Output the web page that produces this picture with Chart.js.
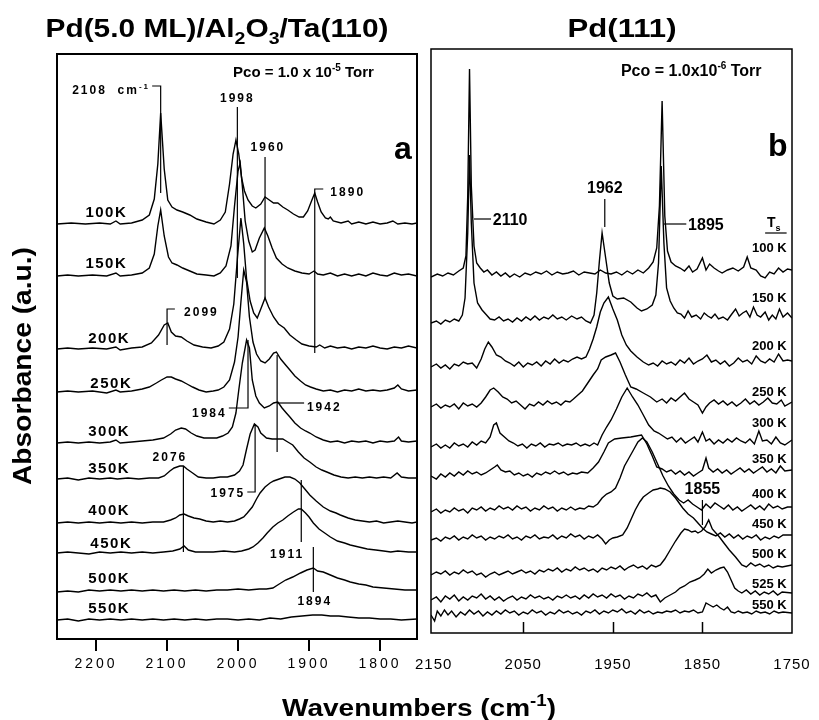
<!DOCTYPE html>
<html>
<head>
<meta charset="utf-8">
<script src="https://cdn.jsdelivr.net/npm/chart.js@4.4.0/dist/chart.umd.min.js"></script>
<style>
html, body { margin: 0; padding: 0; background: #fff; }
#wrap { position: relative; width: 819px; height: 720px; }
canvas { position: absolute; top: 0; }
#chartA { left: 0; }
#chartB { left: 405px; }
</style>
</head>
<body>
<div id="wrap">
  <canvas id="chartA" width="819" height="720"></canvas>
  <canvas id="chartB" width="414" height="720"></canvas>
</div>
<script>
// ---- panel a : Pd(5.0 ML)/Al2O3/Ta(110), spectra as [wavenumber, height above own baseline]
const tempsA = ['100K', '150K', '200K', '250K', '300K', '350K', '400K', '450K', '500K', '550K'];
const offsetsA = [415, 363, 290, 247, 196, 160, 116, 86, 47, 19];
const ticksA = [2200, 2100, 2000, 1900, 1800];

const a100 = [[2255,0],[2235,1],[2215,0],[2195,1],[2180,0],[2172,3],[2166,0],[2150,1],[2135,4],[2125,9],[2118,25],[2113,60],[2109,111],[2104,55],[2099,24],[2093,17],[2086,14],[2078,12],[2068,9],[2058,5],[2045,2],[2034,0],[2025,4],[2018,12],[2012,40],[2007,70],[2003,84],[1999,70],[1995,46],[1991,33],[1986,24],[1980,18],[1975,16],[1968,20],[1962,27],[1958,25],[1950,21],[1944,21],[1937,17],[1930,14],[1922,10],[1914,7],[1908,7],[1902,13],[1896,24],[1892,31],[1888,22],[1883,12],[1877,6],[1873,5],[1870,7],[1866,3],[1855,1],[1845,3],[1840,0],[1830,2],[1820,0],[1810,2],[1800,0],[1790,1],[1782,3],[1775,0],[1765,1],[1755,0],[1748,1]];
const a150 = [[2255,0],[2240,1],[2225,0],[2205,1],[2185,0],[2172,3],[2166,0],[2150,1],[2135,3],[2125,8],[2118,22],[2113,50],[2109,66],[2104,40],[2098,19],[2093,13],[2086,11],[2078,8],[2068,5],[2058,2],[2045,1],[2034,0],[2025,3],[2017,10],[2010,30],[2005,70],[2000,105],[1997,113],[1994,90],[1990,55],[1985,35],[1980,24],[1976,26],[1970,38],[1963,48],[1958,40],[1952,28],[1946,18],[1938,12],[1930,8],[1920,5],[1910,3],[1900,2],[1893,5],[1888,2],[1880,1],[1870,3],[1860,0],[1850,2],[1840,0],[1830,2],[1820,0],[1810,3],[1800,1],[1790,0],[1780,3],[1770,1],[1760,2],[1748,0]];
const a200 = [[2255,0],[2240,1],[2225,0],[2205,1],[2185,0],[2172,2],[2166,-1],[2150,1],[2135,2],[2122,6],[2112,14],[2104,24],[2099,26],[2094,17],[2088,13],[2080,12],[2072,8],[2062,4],[2050,2],[2038,1],[2028,3],[2020,7],[2012,20],[2006,45],[2001,90],[1996,131],[1992,105],[1988,70],[1983,48],[1978,36],[1973,31],[1968,40],[1962,51],[1957,42],[1950,32],[1943,25],[1935,21],[1927,14],[1918,9],[1910,5],[1900,3],[1890,2],[1885,4],[1878,1],[1870,3],[1860,1],[1850,2],[1840,0],[1830,2],[1820,1],[1810,3],[1800,1],[1790,0],[1780,2],[1770,1],[1760,3],[1748,1]];
const a250 = [[2255,0],[2240,1],[2225,0],[2205,1],[2185,-1],[2172,2],[2166,0],[2150,1],[2135,3],[2125,5],[2115,9],[2108,12],[2100,15],[2094,15],[2088,13],[2080,11],[2072,8],[2064,5],[2055,2],[2045,0],[2035,1],[2028,2],[2020,5],[2012,12],[2005,30],[2000,55],[1996,90],[1992,122],[1988,110],[1984,75],[1979,50],[1974,38],[1968,31],[1962,29],[1956,33],[1950,39],[1946,40],[1940,33],[1933,27],[1927,22],[1920,16],[1912,11],[1905,7],[1898,5],[1890,3],[1880,1],[1870,2],[1860,0],[1850,2],[1840,1],[1830,3],[1820,1],[1810,2],[1800,1],[1790,2],[1780,4],[1775,7],[1770,3],[1760,1],[1748,2]];
const a300 = [[2255,0],[2240,1],[2225,0],[2210,1],[2195,0],[2180,1],[2172,3],[2166,0],[2150,1],[2135,2],[2120,3],[2105,5],[2095,9],[2088,13],[2080,15],[2074,14],[2066,10],[2058,7],[2048,5],[2038,5],[2030,5],[2022,7],[2014,10],[2008,16],[2003,30],[1999,53],[1994,80],[1988,103],[1984,95],[1980,63],[1975,47],[1970,40],[1963,35],[1956,37],[1950,40],[1944,41],[1938,35],[1932,30],[1927,26],[1920,20],[1912,15],[1905,12],[1899,10],[1890,6],[1880,3],[1870,1],[1860,2],[1850,0],[1840,2],[1830,1],[1820,2],[1810,0],[1800,2],[1790,1],[1780,2],[1774,6],[1770,2],[1760,1],[1748,2]];
const a350 = [[2255,0],[2240,1],[2225,-1],[2210,1],[2195,0],[2180,1],[2170,0],[2155,1],[2140,0],[2125,1],[2112,1],[2104,3],[2096,8],[2090,11],[2082,13],[2077,13],[2072,10],[2064,6],[2056,2],[2045,1],[2035,1],[2025,2],[2015,2],[2005,4],[1998,8],[1993,14],[1988,30],[1983,45],[1977,55],[1972,52],[1968,46],[1960,41],[1952,40],[1944,40],[1937,40],[1930,37],[1923,34],[1915,27],[1907,21],[1899,17],[1890,12],[1882,9],[1875,7],[1865,4],[1855,2],[1845,1],[1835,2],[1825,1],[1815,2],[1805,1],[1795,2],[1785,1],[1776,6],[1770,2],[1760,1],[1748,1]];
const a400 = [[2255,0],[2240,1],[2225,0],[2210,1],[2195,0],[2180,1],[2165,0],[2150,1],[2135,0],[2120,1],[2105,1],[2095,3],[2088,5],[2082,8],[2076,9],[2070,7],[2062,5],[2054,4],[2045,2],[2035,1],[2025,2],[2015,1],[2005,2],[1998,4],[1992,6],[1987,10],[1980,16],[1974,24],[1969,30],[1962,36],[1955,40],[1950,42],[1942,44],[1934,46],[1927,46],[1920,44],[1913,40],[1906,34],[1899,28],[1890,22],[1880,16],[1870,12],[1862,10],[1856,8],[1845,5],[1835,3],[1825,2],[1815,1],[1805,2],[1795,0],[1785,1],[1775,2],[1765,1],[1755,0],[1748,1]];
const a450 = [[2255,0],[2240,1],[2225,0],[2210,-1],[2195,1],[2180,0],[2165,1],[2150,0],[2135,1],[2120,0],[2105,1],[2092,2],[2082,4],[2076,7],[2070,3],[2060,1],[2048,1],[2035,1],[2020,2],[2005,1],[1995,2],[1985,4],[1979,6],[1972,10],[1965,15],[1959,20],[1951,26],[1944,30],[1937,33],[1930,37],[1922,41],[1915,44],[1911,44],[1905,40],[1900,36],[1894,30],[1886,24],[1878,20],[1870,16],[1860,12],[1850,10],[1842,8],[1830,6],[1818,4],[1806,3],[1795,2],[1785,1],[1775,2],[1760,1],[1748,1]];
const a500 = [[2255,0],[2240,1],[2225,0],[2210,2],[2195,1],[2180,2],[2165,1],[2150,2],[2135,1],[2120,2],[2105,1],[2090,2],[2075,1],[2060,2],[2045,1],[2030,2],[2015,2],[2000,3],[1985,2],[1970,3],[1960,3],[1951,4],[1942,8],[1933,12],[1923,15],[1912,19],[1903,22],[1894,24],[1888,21],[1880,20],[1870,17],[1860,14],[1850,12],[1842,10],[1830,8],[1820,7],[1810,5],[1795,4],[1780,3],[1765,2],[1748,2]];
const a550 = [[2255,0],[2240,1],[2225,-1],[2210,1],[2195,0],[2180,1],[2165,0],[2150,1],[2135,0],[2120,1],[2105,0],[2090,1],[2075,0],[2060,1],[2045,0],[2030,1],[2015,1],[2000,0],[1985,1],[1970,0],[1955,2],[1940,1],[1925,3],[1910,4],[1895,5],[1882,5],[1870,4],[1858,4],[1845,3],[1830,2],[1815,2],[1800,1],[1785,1],[1770,0],[1748,1]];
const spectraA = [a100, a150, a200, a250, a300, a350, a400, a450, a500, a550];

// ---- panel b : Pd(111)
const tempsB = ['100 K', '150 K', '200 K', '250 K', '300 K', '350 K', '400 K', '450 K', '500 K', '525 K', '550 K'];
const offsetsB = [357, 310, 266, 226, 186, 157, 121, 93, 58, 33, 18];
const ticksB = [2150, 2050, 1950, 1850, 1750];

const b100 = [[2153,-1],[2146,2],[2140,0],[2134,3],[2128,1],[2122,5],[2117,8],[2114,20],[2112,80],[2110,207],[2108,90],[2105,30],[2102,13],[2098,8],[2094,4],[2090,6],[2085,1],[2080,4],[2075,0],[2070,3],[2065,-1],[2060,2],[2054,-1],[2048,3],[2042,1],[2036,4],[2030,2],[2024,5],[2018,1],[2012,4],[2006,2],[2000,3],[1994,5],[1988,1],[1982,4],[1976,3],[1970,2],[1964,6],[1958,3],[1952,2],[1946,4],[1940,1],[1934,5],[1928,2],[1922,6],[1916,3],[1910,8],[1905,14],[1901,28],[1898,70],[1895,175],[1892,60],[1889,25],[1885,14],[1880,10],[1875,8],[1870,5],[1865,10],[1861,4],[1856,7],[1850,18],[1846,6],[1842,12],[1837,8],[1832,5],[1828,3],[1822,6],[1816,8],[1810,5],[1804,9],[1800,19],[1796,8],[1790,6],[1785,0],[1780,-2],[1775,4],[1770,2],[1765,8],[1760,4],[1755,7],[1750,6]];
const b150 = [[2153,0],[2147,2],[2142,-1],[2137,3],[2132,1],[2127,4],[2122,2],[2118,8],[2115,25],[2112,90],[2110,168],[2108,100],[2105,40],[2101,20],[2096,13],[2091,8],[2087,4],[2082,3],[2077,6],[2072,2],[2067,4],[2062,1],[2057,5],[2052,2],[2047,6],[2042,3],[2037,7],[2032,3],[2027,6],[2022,4],[2017,8],[2012,4],[2007,6],[2002,3],[1996,7],[1990,4],[1985,6],[1980,2],[1975,0],[1971,8],[1968,30],[1965,62],[1962,90],[1958,65],[1954,40],[1950,27],[1945,24],[1938,25],[1930,21],[1923,15],[1918,12],[1912,14],[1906,18],[1902,28],[1899,60],[1896,157],[1893,80],[1890,35],[1886,22],[1882,15],[1878,10],[1874,9],[1870,5],[1866,12],[1862,6],[1857,8],[1852,4],[1848,10],[1844,7],[1840,5],[1836,9],[1832,4],[1827,6],[1822,3],[1818,8],[1813,14],[1809,7],[1805,10],[1801,12],[1797,6],[1793,16],[1789,8],[1785,6],[1780,11],[1776,3],[1772,8],[1768,4],[1764,14],[1760,6],[1755,10],[1750,5]];
const b200 = [[2153,0],[2147,3],[2142,-1],[2137,2],[2132,-2],[2127,3],[2122,1],[2117,5],[2112,3],[2107,4],[2102,-1],[2097,8],[2093,18],[2089,25],[2085,20],[2080,12],[2075,10],[2070,6],[2065,4],[2060,1],[2055,5],[2050,0],[2045,4],[2040,2],[2035,5],[2030,1],[2025,6],[2020,3],[2015,8],[2010,4],[2005,7],[2000,5],[1995,8],[1990,10],[1985,8],[1980,10],[1976,18],[1972,28],[1968,40],[1964,55],[1960,64],[1955,70],[1950,58],[1945,47],[1940,32],[1935,22],[1930,16],[1923,10],[1916,5],[1910,2],[1905,4],[1900,1],[1895,6],[1890,3],[1885,5],[1880,2],[1875,7],[1870,4],[1865,9],[1860,3],[1855,6],[1850,8],[1845,12],[1840,5],[1835,7],[1830,3],[1825,6],[1820,1],[1815,4],[1810,9],[1805,5],[1800,7],[1795,3],[1790,11],[1785,6],[1780,4],[1775,8],[1770,5],[1765,13],[1760,6],[1755,7],[1750,6]];
const b250 = [[2153,0],[2147,3],[2142,-1],[2137,2],[2132,0],[2127,3],[2122,-2],[2117,4],[2112,1],[2107,3],[2102,0],[2097,4],[2092,10],[2087,17],[2083,19],[2078,15],[2073,10],[2068,8],[2063,4],[2058,6],[2053,2],[2048,-2],[2043,3],[2038,1],[2033,5],[2028,2],[2023,6],[2018,3],[2013,5],[2008,2],[2003,6],[1998,5],[1994,8],[1989,12],[1984,16],[1978,24],[1972,32],[1967,38],[1963,47],[1958,50],[1952,52],[1947,54],[1942,45],[1936,32],[1930,20],[1924,18],[1916,14],[1908,10],[1901,5],[1895,8],[1890,4],[1885,9],[1880,6],[1875,10],[1870,14],[1865,8],[1860,5],[1855,2],[1850,-6],[1846,0],[1842,4],[1837,7],[1832,3],[1827,6],[1822,2],[1817,5],[1812,1],[1807,4],[1802,8],[1797,3],[1792,6],[1787,2],[1782,5],[1777,9],[1772,4],[1767,3],[1762,7],[1758,1],[1750,5]];
const b300 = [[2153,0],[2147,3],[2142,-1],[2137,2],[2132,-1],[2127,4],[2122,1],[2117,3],[2112,0],[2107,5],[2102,2],[2097,6],[2092,4],[2087,10],[2083,22],[2080,24],[2076,14],[2071,10],[2066,6],[2061,4],[2056,1],[2051,3],[2046,-1],[2041,3],[2036,1],[2031,4],[2026,0],[2021,3],[2016,2],[2011,4],[2006,1],[2001,3],[1996,2],[1991,4],[1986,1],[1981,3],[1976,1],[1971,4],[1967,2],[1962,12],[1957,20],[1952,27],[1946,38],[1940,50],[1934,59],[1928,50],[1922,42],[1916,32],[1910,22],[1904,16],[1899,14],[1894,11],[1889,8],[1884,10],[1879,5],[1874,9],[1869,4],[1864,7],[1859,10],[1855,5],[1850,15],[1846,6],[1842,8],[1837,3],[1832,7],[1827,4],[1822,8],[1817,5],[1812,9],[1807,6],[1802,4],[1797,8],[1792,3],[1787,16],[1783,6],[1778,7],[1773,3],[1768,10],[1763,4],[1758,2],[1750,7]];
const b350 = [[2153,0],[2147,-3],[2142,2],[2137,-1],[2132,3],[2127,0],[2122,4],[2117,1],[2112,5],[2107,2],[2102,4],[2097,1],[2092,3],[2087,6],[2082,9],[2079,11],[2075,6],[2070,4],[2065,5],[2060,1],[2055,3],[2050,0],[2045,2],[2040,-1],[2035,3],[2030,1],[2025,4],[2020,2],[2015,5],[2010,2],[2005,4],[2000,1],[1995,3],[1990,2],[1985,4],[1978,3],[1972,8],[1966,14],[1960,24],[1955,33],[1948,37],[1940,38],[1930,39],[1924,40],[1918,41],[1912,32],[1906,20],[1901,9],[1895,7],[1890,4],[1885,6],[1880,2],[1875,5],[1870,1],[1865,4],[1860,0],[1855,3],[1850,6],[1846,18],[1843,8],[1838,4],[1833,7],[1828,3],[1823,6],[1818,2],[1813,5],[1808,8],[1803,4],[1798,7],[1793,3],[1788,6],[1783,9],[1778,4],[1773,7],[1768,3],[1763,10],[1758,5],[1750,6]];
const b400 = [[2153,0],[2147,3],[2142,-1],[2137,2],[2132,0],[2127,4],[2122,1],[2117,3],[2112,-1],[2107,4],[2102,2],[2097,5],[2092,1],[2087,4],[2082,2],[2077,6],[2072,3],[2067,5],[2062,2],[2057,6],[2052,3],[2047,5],[2042,1],[2037,4],[2032,2],[2027,6],[2022,3],[2017,5],[2012,1],[2007,4],[2002,2],[1997,5],[1992,2],[1987,4],[1982,3],[1977,6],[1972,5],[1967,8],[1962,14],[1957,18],[1952,20],[1947,24],[1942,34],[1937,46],[1932,54],[1927,62],[1922,70],[1917,74],[1912,70],[1906,60],[1900,48],[1894,36],[1888,26],[1882,18],[1876,12],[1871,9],[1866,12],[1861,8],[1856,5],[1851,2],[1846,8],[1841,4],[1836,9],[1831,6],[1826,3],[1821,7],[1816,2],[1811,5],[1806,1],[1801,4],[1796,7],[1791,3],[1786,6],[1781,2],[1776,8],[1771,4],[1766,6],[1761,3],[1755,5],[1750,5]];
const b450 = [[2153,0],[2147,2],[2142,-1],[2137,3],[2132,1],[2127,4],[2122,0],[2117,3],[2112,1],[2107,5],[2102,2],[2097,4],[2092,0],[2087,3],[2082,1],[2077,4],[2072,2],[2067,5],[2062,1],[2057,3],[2052,0],[2047,4],[2042,2],[2037,5],[2032,1],[2027,3],[2022,2],[2017,5],[2012,1],[2007,4],[2002,2],[1997,6],[1992,3],[1987,5],[1982,1],[1977,4],[1972,2],[1967,5],[1962,1],[1958,-4],[1954,0],[1950,2],[1945,3],[1939,5],[1934,12],[1930,20],[1925,30],[1920,38],[1916,43],[1910,47],[1905,50],[1900,51],[1897,52],[1892,51],[1886,48],[1880,42],[1876,37],[1872,32],[1866,26],[1860,22],[1856,18],[1850,12],[1845,8],[1840,6],[1835,4],[1830,7],[1825,3],[1820,6],[1815,2],[1810,5],[1805,1],[1800,4],[1795,2],[1790,5],[1785,0],[1780,3],[1775,1],[1770,4],[1765,2],[1760,5],[1750,5]];
const b500 = [[2153,0],[2147,3],[2142,1],[2137,4],[2132,0],[2127,3],[2122,1],[2117,5],[2112,2],[2107,4],[2102,0],[2097,2],[2092,-2],[2087,1],[2082,3],[2077,0],[2072,2],[2067,4],[2062,1],[2057,3],[2052,5],[2047,2],[2042,4],[2037,1],[2032,5],[2027,3],[2022,6],[2017,4],[2012,7],[2007,3],[2002,6],[1997,4],[1992,8],[1987,5],[1982,7],[1977,4],[1972,6],[1967,3],[1962,7],[1957,5],[1952,8],[1947,6],[1942,9],[1937,5],[1932,8],[1927,10],[1922,7],[1917,9],[1912,6],[1907,10],[1902,8],[1897,10],[1892,16],[1886,25],[1880,34],[1874,42],[1870,46],[1866,45],[1862,43],[1858,44],[1855,42],[1851,44],[1847,48],[1843,55],[1839,46],[1835,42],[1831,38],[1826,32],[1820,25],[1813,18],[1806,10],[1801,8],[1796,12],[1791,9],[1786,11],[1781,8],[1776,10],[1771,7],[1766,9],[1761,8],[1750,10]];
const b525 = [[2153,0],[2147,3],[2142,-2],[2137,4],[2132,1],[2127,5],[2122,-1],[2117,3],[2112,0],[2107,4],[2102,2],[2097,6],[2092,1],[2087,4],[2082,0],[2077,3],[2072,-1],[2067,2],[2062,4],[2057,0],[2052,3],[2047,1],[2042,5],[2037,2],[2032,4],[2027,1],[2022,3],[2017,0],[2012,4],[2007,2],[2002,5],[1997,2],[1992,4],[1987,1],[1982,5],[1977,2],[1972,6],[1967,3],[1962,5],[1957,2],[1952,6],[1947,3],[1942,5],[1937,1],[1932,4],[1927,2],[1922,6],[1917,4],[1912,7],[1907,3],[1902,5],[1897,-2],[1892,2],[1886,5],[1880,8],[1875,12],[1870,14],[1864,18],[1858,20],[1853,22],[1848,26],[1844,31],[1840,27],[1835,30],[1830,32],[1826,33],[1822,28],[1818,20],[1814,12],[1810,9],[1806,7],[1801,10],[1796,6],[1791,9],[1786,5],[1781,8],[1776,6],[1771,9],[1766,5],[1761,8],[1750,7]];
const b550 = [[2153,0],[2149,-6],[2146,4],[2142,-1],[2138,5],[2134,0],[2130,4],[2125,-2],[2120,3],[2115,0],[2110,5],[2105,1],[2100,4],[2095,-1],[2090,3],[2085,0],[2080,4],[2075,1],[2070,5],[2065,2],[2060,4],[2055,0],[2050,3],[2045,1],[2040,5],[2035,2],[2030,4],[2025,0],[2020,3],[2015,1],[2010,5],[2005,2],[2000,4],[1995,1],[1990,3],[1985,0],[1980,4],[1975,2],[1970,5],[1965,1],[1960,4],[1955,2],[1950,5],[1945,3],[1940,6],[1935,2],[1930,4],[1925,1],[1920,5],[1915,2],[1910,4],[1905,1],[1900,3],[1895,2],[1890,4],[1885,3],[1880,5],[1875,2],[1870,4],[1865,3],[1860,5],[1855,2],[1850,3],[1846,12],[1842,10],[1838,8],[1834,10],[1830,7],[1826,5],[1822,8],[1818,3],[1814,2],[1810,4],[1805,2],[1800,3],[1795,1],[1790,4],[1785,2],[1780,3],[1775,1],[1770,4],[1765,2],[1760,3],[1750,2]];
const spectraB = [b100, b150, b200, b250, b300, b350, b400, b450, b500, b525, b550];

// peak markers: text + leader lines, in (wavenumber, plot units)
const marksA = [
  { text: [['2108  cm', 0], ['-1', 1]], at: [2124, 549], align: 'right', paths: [[[2121, 553], [2109, 553], [2109, 446]]] },
  { text: '1998', at: [2001, 541], align: 'center', paths: [[[2001, 532], [2001, 361]]] },
  { text: '1960', at: [1958, 492], align: 'center', paths: [[[1962, 482], [1962, 339]]] },
  { text: '1890', at: [1870, 447], align: 'left', paths: [[[1880, 450], [1892, 450], [1892, 286]]] },
  { text: '2099', at: [2076, 327], align: 'left', paths: [[[2089, 330], [2100, 330], [2100, 294]]] },
  { text: '1984', at: [2016, 226], align: 'right', paths: [[[2013, 231], [1986, 231], [1986, 299]]] },
  { text: '1942', at: [1903, 232], align: 'left', paths: [[[1907, 236], [1945, 236]], [[1945, 284], [1945, 187]]] },
  { text: '2076', at: [2096, 182], align: 'center', paths: [[[2077, 173], [2077, 87]]] },
  { text: '1975', at: [1990, 146], align: 'right', paths: [[[1987, 147], [1976, 147], [1976, 215]]] },
  { text: '1911', at: [1931, 85], align: 'center', paths: [[[1911, 159], [1911, 97]]] },
  { text: '1894', at: [1892, 38], align: 'center', paths: [[[1894, 92], [1894, 47]]] }
];
const marksB = [
  { text: '2110', at: [2084, 414], align: 'left', paths: [[[2105, 414], [2086, 414]]] },
  { text: '1962', at: [1959, 446], align: 'center', paths: [[[1959, 434], [1959, 406]]] },
  { text: '1895', at: [1866, 409], align: 'left', paths: [[[1893, 409], [1868, 409]]] },
  { text: '1855', at: [1850, 145], align: 'center', paths: [[[1850, 133], [1850, 108]]] },
  { text: [['T', 0], ['s', -1]], at: [1778, 411], align: 'left', paths: [[[1780, 400], [1756, 400]]] }
];
const labelPosA = [[2215, 427], [2215, 376], [2211, 301], [2208, 256], [2211, 208], [2211, 171], [2211, 129], [2208, 96], [2211, 61], [2211, 31]];
const labelValB = [386, 336, 288, 242, 211, 175, 140, 110, 80, 50, 29];

const FONT = "'Liberation Sans', Arial, sans-serif";

// draws text made of [string, mode] pieces; mode 1 = superscript, -1 = subscript
function rich(ctx, segs, x, y, align, size, opts = {}) {
  if (typeof segs === 'string') segs = [[segs, 0]];
  const weight = opts.weight || 'bold';
  const font = m => weight + ' ' + (m ? Math.round(size * 0.65) : size) + 'px ' + FONT;
  ctx.letterSpacing = (opts.ls || 0) + 'px';
  let total = 0;
  for (const [t, m] of segs) { ctx.font = font(m); total += ctx.measureText(t).width; }
  const sx = opts.width ? opts.width / total : 1;
  const w = total * sx;
  const left = align === 'center' ? x - w / 2 : align === 'right' ? x - w : x;
  ctx.save();
  ctx.translate(left, y);
  ctx.scale(sx, 1);
  ctx.textAlign = 'left';
  ctx.textBaseline = 'alphabetic';
  let cx = 0;
  for (const [t, m] of segs) {
    ctx.font = font(m);
    ctx.fillText(t, cx, m === 1 ? -size * 0.42 : m === -1 ? size * 0.28 : 0);
    cx += ctx.measureText(t).width;
  }
  ctx.restore();
}

// frame, labels and inner ticks of one panel
const deco = {
  id: 'deco',
  beforeDraw(chart, args, o) { chart.ctx.letterSpacing = o.tickSpacing + 'px'; },
  afterDatasetsDraw(chart, args, o) {
    const { ctx, chartArea: a, scales: { x, y } } = chart;
    ctx.save();
    ctx.strokeStyle = '#000';
    ctx.fillStyle = '#000';
    ctx.lineWidth = o.frame;
    ctx.strokeRect(a.left, a.top, a.right - a.left, a.bottom - a.top);
    ctx.lineWidth = 1.5;
    for (const w of o.inTicks) {
      const px = Math.round(x.getPixelForValue(w)) + 0.5;
      ctx.beginPath();
      ctx.moveTo(px, a.bottom);
      ctx.lineTo(px, a.bottom - 11);
      ctx.stroke();
    }
    for (const t of o.texts) {
      ctx.save();
      rich(ctx, t.text, x.getPixelForValue(t.w), y.getPixelForValue(t.v) + t.size * 0.36, t.align, t.size, { ls: t.ls });
      ctx.restore();
    }
    ctx.restore();
  },
  afterDraw(chart) { chart.ctx.letterSpacing = '0px'; }
};

// page titles, drawn on the full-width canvas
const pageText = {
  id: 'pageText',
  afterDraw(chart) {
    const ctx = chart.ctx;
    ctx.save();
    ctx.fillStyle = '#000';
    rich(ctx, [['Pd(5.0 ML)/Al', 0], ['2', -1], ['O', 0], ['3', -1], ['/Ta(110)', 0]], 217, 37, 'center', 26, { width: 343 });
    rich(ctx, 'Pd(111)', 622, 37, 'center', 26, { width: 109 });
    rich(ctx, [['Wavenumbers (cm', 0], ['-1', 1], [')', 0]], 419, 716, 'center', 24, { width: 274 });
    ctx.translate(22, 366);
    ctx.rotate(-Math.PI / 2);
    rich(ctx, 'Absorbance (a.u.)', 0, 9, 'center', 26, { width: 238 });
    ctx.restore();
  }
};

const spectrumSets = (list, offs) => list.map((s, i) => ({
  data: s.map(([w, h]) => ({ x: w, y: h + offs[i] })),
  borderColor: '#000', borderWidth: 1.4, pointRadius: 0, tension: 0, fill: false
}));
const markSets = marks => marks.flatMap(m => m.paths.map(p => ({
  data: p.map(([w, v]) => ({ x: w, y: v })),
  borderColor: '#000', borderWidth: 1.2, pointRadius: 0, tension: 0, fill: false
})));
const markTexts = (marks, size, ls) => marks.map(m => ({ text: m.text, w: m.at[0], v: m.at[1], align: m.align, size, ls }));

function makeChart(id, cfg) {
  return new Chart(document.getElementById(id), {
    type: 'line',
    data: { datasets: spectrumSets(cfg.spectra, cfg.offsets).concat(markSets(cfg.marks)) },
    plugins: cfg.plugins,
    options: {
      responsive: false, animation: false, devicePixelRatio: 1,
      layout: { padding: cfg.padding },
      plugins: {
        legend: { display: false }, tooltip: { enabled: false },
        deco: { frame: cfg.frame, inTicks: cfg.inTicks, texts: cfg.texts, tickSpacing: cfg.tickSpacing }
      },
      scales: {
        x: {
          type: 'linear', reverse: true, min: cfg.xmin, max: cfg.xmax,
          afterBuildTicks: s => { s.ticks = cfg.ticks.map(v => ({ value: v })); },
          afterFit: s => { s.height = cfg.axisH; },
          border: { display: false },
          grid: cfg.grid,
          ticks: { color: '#000', font: { family: FONT, size: cfg.tickSize }, padding: cfg.tickPad, maxRotation: 0, autoSkip: false, callback: v => String(v) }
        },
        y: { display: false, min: 0, max: cfg.ymax }
      }
    }
  });
}

let chartA, chartB;

chartA = makeChart('chartA', {
  spectra: spectraA, offsets: offsetsA, marks: marksA,
  plugins: [deco, pageText],
  padding: { left: 57, right: 402, top: 54, bottom: 0 },
  xmin: 1748, xmax: 2255, ticks: ticksA, axisH: 81, ymax: 585,
  grid: { drawOnChartArea: false, drawTicks: true, tickLength: 12, color: '#000', lineWidth: 2 },
  tickSize: 14, tickPad: 5, tickSpacing: 3, frame: 2, inTicks: [],
  texts: markTexts(marksA, 12, 2)
    .concat(tempsA.map((t, i) => ({ text: t, w: labelPosA[i][0], v: labelPosA[i][1], align: 'left', size: 15, ls: 1.5 })))
    .concat([
      { text: [['Pco = 1.0 x 10', 0], ['-5', 1], [' Torr', 0]], w: 2007, v: 567, align: 'left', size: 15, ls: 0 },
      { text: 'a', w: 1768, v: 492, align: 'center', size: 32, ls: 0 }
    ])
});

// panel b: tick marks hidden outside (drawn inside by deco), tickLength only spaces the labels down
chartB = makeChart('chartB', {
  spectra: spectraB, offsets: offsetsB, marks: marksB,
  plugins: [deco],
  padding: { left: 26, right: 27, top: 49, bottom: 0 },
  xmin: 1750, xmax: 2153, ticks: ticksB, axisH: 87, ymax: 584,
  grid: { display: false, drawOnChartArea: false, drawTicks: true, tickLength: 20 },
  tickSize: 15, tickPad: 3, tickSpacing: 1, frame: 1.5, inTicks: [2050, 1950, 1850],
  texts: markTexts(marksB.slice(0, 4), 16, 0)
    .concat([{ text: marksB[4].text, w: marksB[4].at[0], v: marksB[4].at[1], align: 'left', size: 14, ls: 0 }])
    .concat(tempsB.map((t, i) => ({ text: t, w: 1756, v: labelValB[i], align: 'right', size: 13, ls: 0 })))
    .concat([
      { text: [['Pco = 1.0x10', 0], ['-6', 1], [' Torr', 0]], w: 1941, v: 563, align: 'left', size: 16, ls: 0 },
      { text: 'b', w: 1766, v: 489, align: 'center', size: 32, ls: 0 }
    ])
});
</script>
</body>
</html>
